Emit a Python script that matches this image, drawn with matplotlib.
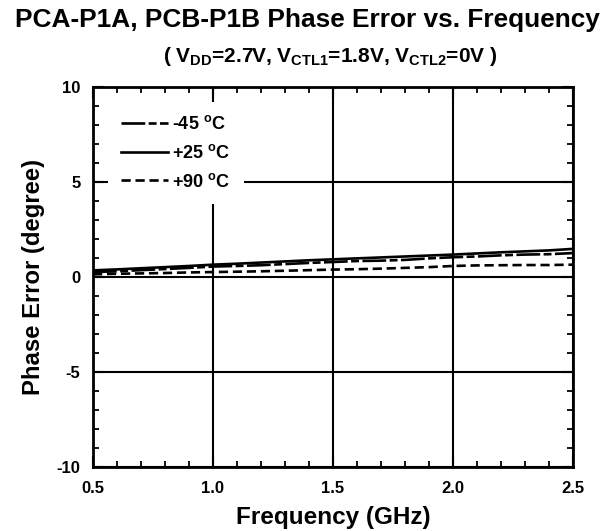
import matplotlib
matplotlib.use("Agg")
import matplotlib.pyplot as plt
import numpy as np

plt.rcParams['font.family'] = ['Liberation Sans', 'DejaVu Sans']
plt.rcParams['font.weight'] = 'bold'
plt.rcParams['mathtext.fontset'] = 'custom'
plt.rcParams['mathtext.rm'] = 'Liberation Sans:bold'
plt.rcParams['mathtext.bf'] = 'Liberation Sans:bold'
plt.rcParams['mathtext.it'] = 'Liberation Sans:bold'
plt.rcParams['mathtext.default'] = 'rm'

freq = [0.5, 0.6, 0.7, 0.8, 0.9, 1.0, 1.1, 1.2, 1.3, 1.4, 1.5, 1.6, 1.7, 1.8, 1.9, 2.0, 2.1, 2.2, 2.3, 2.4, 2.5]
err_m45 = [0.26, 0.30, 0.36, 0.42, 0.48, 0.55, 0.58, 0.62, 0.68, 0.74, 0.79, 0.84, 0.86, 0.90, 0.98, 1.04, 1.08, 1.14, 1.18, 1.20, 1.26]
err_p25 = [0.35, 0.40, 0.46, 0.52, 0.58, 0.65, 0.70, 0.76, 0.82, 0.88, 0.93, 0.98, 1.03, 1.08, 1.13, 1.18, 1.24, 1.30, 1.35, 1.40, 1.48]
err_p90 = [0.14, 0.17, 0.19, 0.21, 0.24, 0.26, 0.28, 0.30, 0.33, 0.36, 0.39, 0.41, 0.44, 0.48, 0.52, 0.58, 0.61, 0.62, 0.63, 0.63, 0.65]
labels = [r'-45 $^{\mathbf{o}}$C', r'+25 $^{\mathbf{o}}$C', r'+90 $^{\mathbf{o}}$C']
xtick_vals = [0.5, 1.0, 1.5, 2.0, 2.5]
xtick_labels = ['0.5', '1.0', '1.5', '2.0', '2.5']
ytick_vals = [-10, -5, 0, 5, 10]
ytick_labels = ['-10', '-5', '0', '5', '10']

fig = plt.figure(figsize=(6.16, 5.31), dpi=100)
ax = fig.add_axes([93/616, 1 - 467/531, (573 - 93)/616, (467 - 87)/531])

ax.plot(freq, err_m45, color='black', lw=1.9, dashes=(9, 1.3, 3, 1.3), label=labels[0])
ax.plot(freq, err_p25, color='black', lw=1.9, linestyle='-', label=labels[1])
ax.plot(freq, err_p90, color='black', lw=1.9, dashes=(3.5, 1.8), label=labels[2])

ax.set_xlim(0.5, 2.5)
ax.set_ylim(-10, 10)
ax.set_xticks(xtick_vals)
ax.set_xticklabels(xtick_labels)
ax.set_yticks(ytick_vals)
ax.set_yticklabels(ytick_labels)
ax.set_xticks(np.arange(0.5, 2.51, 0.1), minor=True)
ax.set_yticks(np.arange(-10, 10.1, 1), minor=True)
ax.grid(True, which='major', color='black', lw=1.5)
ax.tick_params(which='major', direction='in', length=8, width=1.5, top=True, right=True, labelsize=12)
ax.tick_params(axis='x', which='major', pad=10)
ax.tick_params(axis='y', which='major', pad=9)
ax.tick_params(which='minor', direction='in', length=4, width=1.3, top=True, right=True)
for s in ax.spines.values():
    s.set_linewidth(2)
for t in ax.get_xticklabels() + ax.get_yticklabels():
    t.set_fontweight('bold')

ax.set_xlabel('Frequency (GHz)', fontsize=17.5, fontweight='bold', labelpad=7)
ax.set_ylabel('Phase Error (degree)', fontsize=17.2, fontweight='bold', labelpad=8.5)

fig.text(307/616, 1 - 20/531, 'PCA-P1A, PCB-P1B Phase Error vs. Frequency', ha='center', va='center',
         fontsize=18.9, fontweight='bold')
fig.text(330/616, 1 - 56/531, r'( V$_{\mathbf{DD}}$=2.7V, V$_{\mathbf{CTL1}}$=1.8V, V$_{\mathbf{CTL2}}$=0V )',
         ha='center', va='center', fontsize=15, fontweight='bold')

leg = ax.legend(loc='upper left', bbox_to_anchor=((108 - 93)/480, 1 - (102 - 87)/380), frameon=True, fancybox=False,
                edgecolor='none', facecolor='white', framealpha=1, fontsize=13, handlelength=2.6,
                handletextpad=0.25, labelspacing=0.6, borderpad=0.72, borderaxespad=0)
for t in leg.get_texts():
    t.set_fontweight('bold')

fig.savefig('out.png', dpi=100)
